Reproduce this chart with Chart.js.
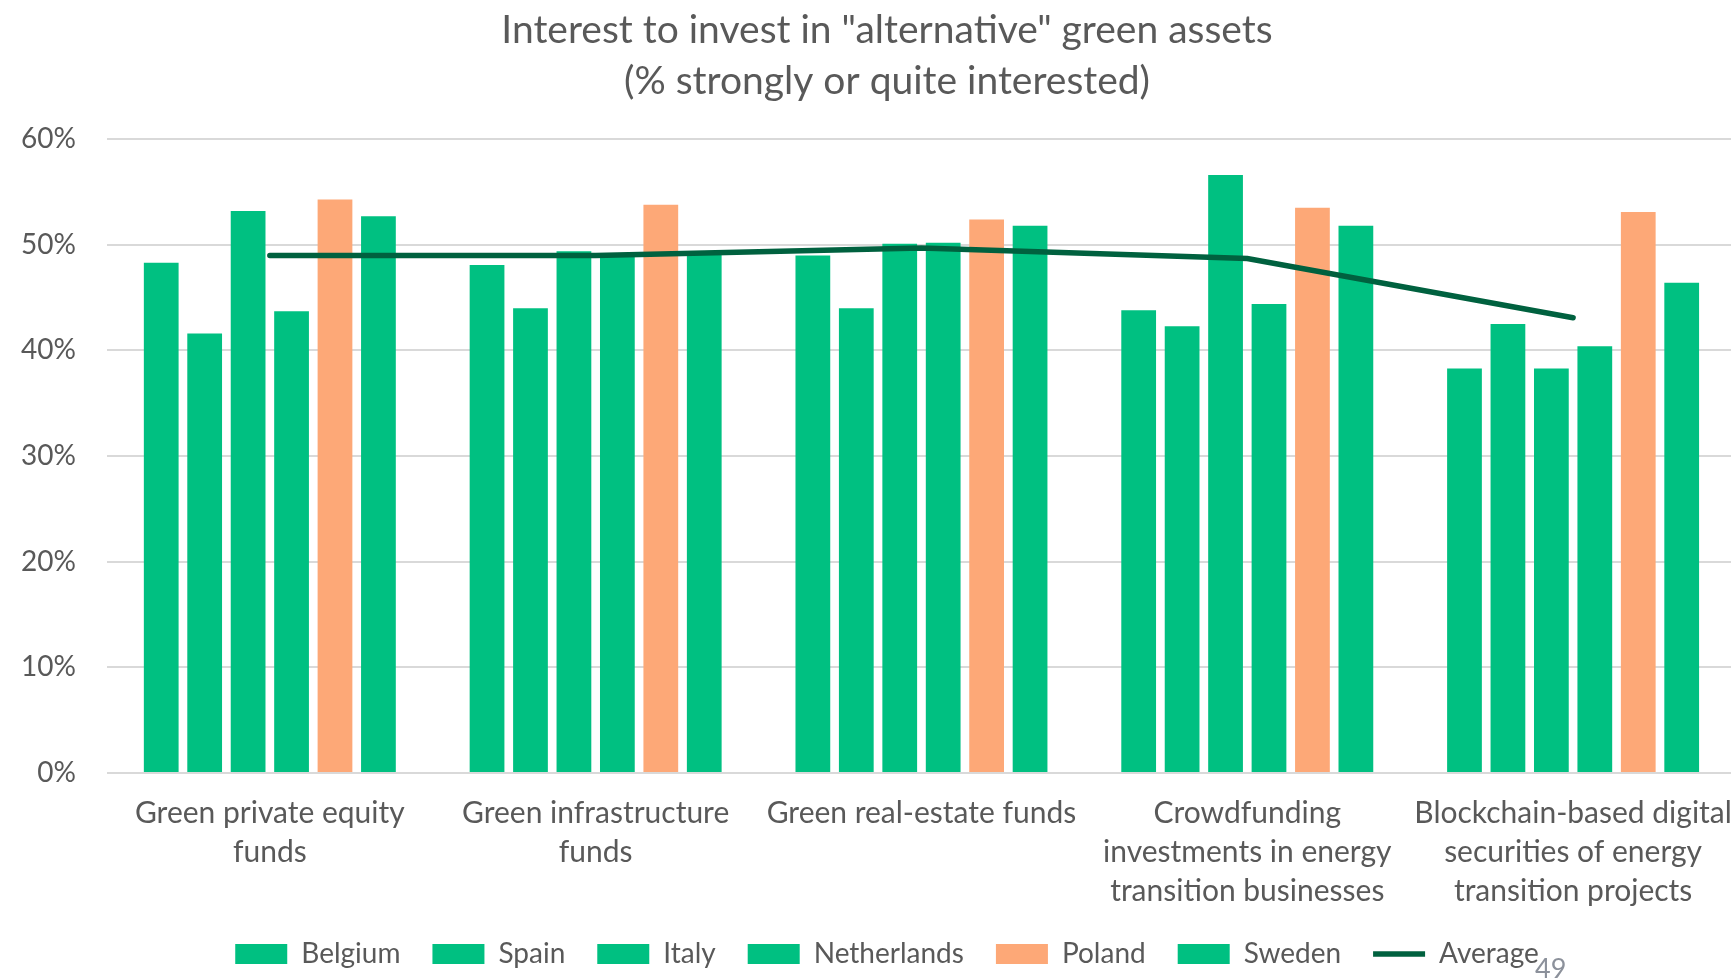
<!DOCTYPE html>
<html lang="en">
<head>
    <meta charset="UTF-8">
    <title>Interest to invest in alternative green assets</title>
    <script src="https://cdn.jsdelivr.net/npm/chart.js"></script>
    <style>
        body { margin: 0; background: #fff; overflow: hidden; width: 1731px; height: 978px; position: relative; }
        #wrap { position: absolute; left: 0; top: 0; width: 1774px; height: 978px; }
        #page { position: absolute; left: 1535px; top: 951px; font: 27px Lato, sans-serif; color: #8c919b; }
    </style>
</head>
<body>
    <div id="wrap"><canvas id="chart"></canvas></div>
    <div id="page">49</div>
    <script>
        const categories = [
            ['Green private equity', 'funds'],
            ['Green infrastructure', 'funds'],
            ['Green real-estate funds'],
            ['Crowdfunding', 'investments in energy', 'transition businesses'],
            ['Blockchain-based digital', 'securities of energy', 'transition projects']
        ];
        const belgium     = [48.3, 48.1, 49.0, 43.8, 38.3];
        const spain       = [41.6, 44.0, 44.0, 42.3, 42.5];
        const italy       = [53.2, 49.4, 50.1, 56.6, 38.3];
        const netherlands = [43.7, 49.0, 50.2, 44.4, 40.4];
        const poland      = [54.3, 53.8, 52.4, 53.5, 53.1];
        const sweden      = [52.7, 49.1, 51.8, 51.8, 46.4];
        const average     = [49.0, 49.0, 49.7, 48.7, 43.1];
        const yTicks = [0, 10, 20, 30, 40, 50, 60];

        const green = '#00c081';
        const orange = '#fda877';
        const dark = '#00613f';
        const textColor = '#595959';
        const fontFamily = 'Lato, sans-serif';
        const xShrink = 16;

        function barSet(label, data, color) {
            return {
                type: 'bar',
                label: label,
                data: data,
                backgroundColor: color,
                pointStyle: 'rect',
                categoryPercentage: 0.8,
                barPercentage: 0.8,
                order: 2
            };
        }

        // title and legend sit centred on the whole slide, not on the padded box
        const recentre = {
            id: 'recentre',
            afterLayout(chart) {
                [chart.titleBlock, chart.legend].forEach(box => {
                    box.left += 24;
                    box.right += 24;
                });
                chart.scales.x.bottom += xShrink;
            }
        };

        new Chart(document.getElementById('chart'), {
            data: {
                labels: categories,
                datasets: [
                    barSet('Belgium', belgium, green),
                    barSet('Spain', spain, green),
                    barSet('Italy', italy, green),
                    barSet('Netherlands', netherlands, green),
                    barSet('Poland', poland, orange),
                    barSet('Sweden', sweden, green),
                    {
                        type: 'line',
                        label: 'Average',
                        data: average,
                        borderColor: dark,
                        backgroundColor: dark,
                        borderWidth: 5.5,
                        pointRadius: 0,
                        pointStyle: 'line',
                        tension: 0,
                        borderCapStyle: 'round',
                        order: 1
                    }
                ]
            },
            plugins: [recentre],
            options: {
                responsive: true,
                maintainAspectRatio: false,
                animation: false,
                layout: { padding: { left: -10, right: 38, top: 0, bottom: 0 } },
                plugins: {
                    title: {
                        display: true,
                        text: ['Interest to invest in "alternative" green assets', '(% strongly or quite interested)'],
                        color: textColor,
                        font: { family: fontFamily, size: 39, weight: 'normal', lineHeight: 1.31 },
                        padding: { top: 5, bottom: 32 }
                    },
                    legend: {
                        position: 'bottom',
                        labels: {
                            usePointStyle: true,
                            pointStyleWidth: 52,
                            boxHeight: 20,
                            color: textColor,
                            font: { family: fontFamily, size: 28 },
                            padding: 32,
                            sort: (a, b) => a.datasetIndex - b.datasetIndex
                        }
                    },
                    tooltip: { enabled: false }
                },
                scales: {
                    x: {
                        grid: { display: false },
                        border: { display: false },
                        afterFit: axis => { axis.height -= xShrink; },
                        ticks: {
                            color: textColor,
                            font: { family: fontFamily, size: 30, lineHeight: 1.3 },
                            maxRotation: 0,
                            autoSkip: false,
                            padding: 13
                        }
                    },
                    y: {
                        min: 0,
                        max: 60,
                        afterBuildTicks: axis => { axis.ticks = yTicks.map(v => ({ value: v })); },
                        grid: { color: '#d9d9d9', lineWidth: 2, drawTicks: false },
                        border: { display: false },
                        ticks: {
                            color: textColor,
                            font: { family: fontFamily, size: 28 },
                            padding: 31,
                            callback: v => v + '%'
                        }
                    }
                }
            }
        });
    </script>
</body>
</html>
